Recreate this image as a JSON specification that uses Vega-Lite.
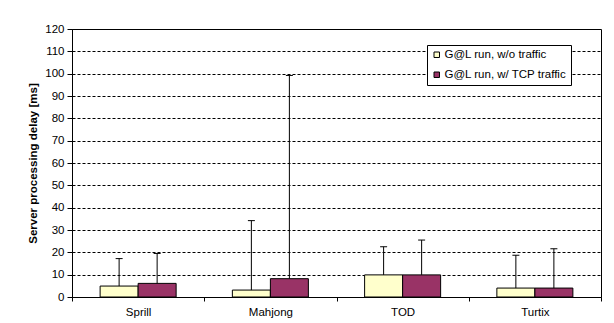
{
  "$schema": "https://vega.github.io/schema/vega-lite/v6.json",
  "autosize": "none",
  "width": 529,
  "height": 268,
  "padding": {"left": 72, "top": 29, "right": 13, "bottom": 26},
  "background": "white",
  "config": {
    "font": "Liberation Sans",
    "view": {"stroke": "#000000", "strokeWidth": 1, "strokeOpacity": 1},
    "axis": {"labelFont": "Liberation Sans", "titleFont": "Liberation Sans", "labelColor": "black", "titleColor": "black", "domainColor": "black", "tickColor": "black"}
  },
  "data": {
    "values": [
      {"game": "Sprill", "series": "G@L run, w/o traffic", "value": 4.9, "err": 17.2},
      {"game": "Sprill", "series": "G@L run, w/ TCP traffic", "value": 6.1, "err": 19.5},
      {"game": "Mahjong", "series": "G@L run, w/o traffic", "value": 3.1, "err": 34.2},
      {"game": "Mahjong", "series": "G@L run, w/ TCP traffic", "value": 8.2, "err": 99.2},
      {"game": "TOD", "series": "G@L run, w/o traffic", "value": 9.9, "err": 22.5},
      {"game": "TOD", "series": "G@L run, w/ TCP traffic", "value": 9.9, "err": 25.5},
      {"game": "Turtix", "series": "G@L run, w/o traffic", "value": 4.0, "err": 18.7},
      {"game": "Turtix", "series": "G@L run, w/ TCP traffic", "value": 4.0, "err": 21.6}
    ]
  },
  "encoding": {
    "x": {
      "field": "game", "type": "nominal", "sort": ["Sprill", "Mahjong", "TOD", "Turtix"],
      "scale": {"paddingInner": 0, "paddingOuter": 0},
      "axis": {"title": null, "labelAngle": 0, "labelFontSize": 11.5, "tickBand": "extent", "tickSize": 4, "labelPadding": 5, "grid": false}
    },
    "xOffset": {
      "field": "series", "type": "nominal", "sort": ["G@L run, w/o traffic", "G@L run, w/ TCP traffic"],
      "scale": {"paddingInner": 0, "paddingOuter": 0.74}
    }
  },
  "layer": [
    {
      "mark": {"type": "bar", "stroke": "black", "strokeWidth": 1},
      "encoding": {
        "y": {"field": "value", "type": "quantitative", "scale": {"domain": [0, 120], "nice": false, "zero": true},
          "axis": {"title": "Server processing delay [ms]", "titleFontSize": 11.5, "titleFontWeight": "bold", "titlePadding": 6,
            "tickCount": 13, "values": [0, 10, 20, 30, 40, 50, 60, 70, 80, 90, 100, 110, 120], "labelOverlap": false, "labelFontSize": 11.5, "tickSize": 5, "labelPadding": 3,
            "grid": true, "gridColor": "black", "gridDash": [3, 2], "gridOpacity": 1, "gridWidth": 1}},
        "color": {
          "field": "series", "type": "nominal", "sort": ["G@L run, w/o traffic", "G@L run, w/ TCP traffic"],
          "scale": {"range": ["#FFFFCC", "#993366"]},
          "legend": {
            "title": null, "orient": "none", "legendX": 355, "legendY": 16,
            "fillColor": "white", "strokeColor": "black", "padding": 4, "rowPadding": 7,
            "symbolType": "square", "symbolSize": 30, "symbolStrokeColor": "black", "symbolStrokeWidth": 1,
            "labelFontSize": 11.5, "labelColor": "black", "labelOffset": 2, "labelLimit": 300
          }
        }
      }
    },
    {
      "mark": {"type": "rule", "color": "black", "strokeWidth": 1},
      "encoding": {"y": {"field": "value", "type": "quantitative",
          "axis": {"title": "Server processing delay [ms]", "titleFontSize": 11.5, "titleFontWeight": "bold", "titlePadding": 6,
            "tickCount": 13, "values": [0, 10, 20, 30, 40, 50, 60, 70, 80, 90, 100, 110, 120], "labelOverlap": false, "labelFontSize": 11.5, "tickSize": 5, "labelPadding": 3,
            "grid": true, "gridColor": "black", "gridDash": [3, 2], "gridOpacity": 1, "gridWidth": 1}}, "y2": {"field": "err"}}
    },
    {
      "mark": {"type": "tick", "color": "black", "thickness": 1, "size": 7, "opacity": 1},
      "encoding": {"y": {"field": "err", "type": "quantitative",
          "axis": {"title": "Server processing delay [ms]", "titleFontSize": 11.5, "titleFontWeight": "bold", "titlePadding": 6,
            "tickCount": 13, "values": [0, 10, 20, 30, 40, 50, 60, 70, 80, 90, 100, 110, 120], "labelOverlap": false, "labelFontSize": 11.5, "tickSize": 5, "labelPadding": 3,
            "grid": true, "gridColor": "black", "gridDash": [3, 2], "gridOpacity": 1, "gridWidth": 1}}}
    }
  ]
}
